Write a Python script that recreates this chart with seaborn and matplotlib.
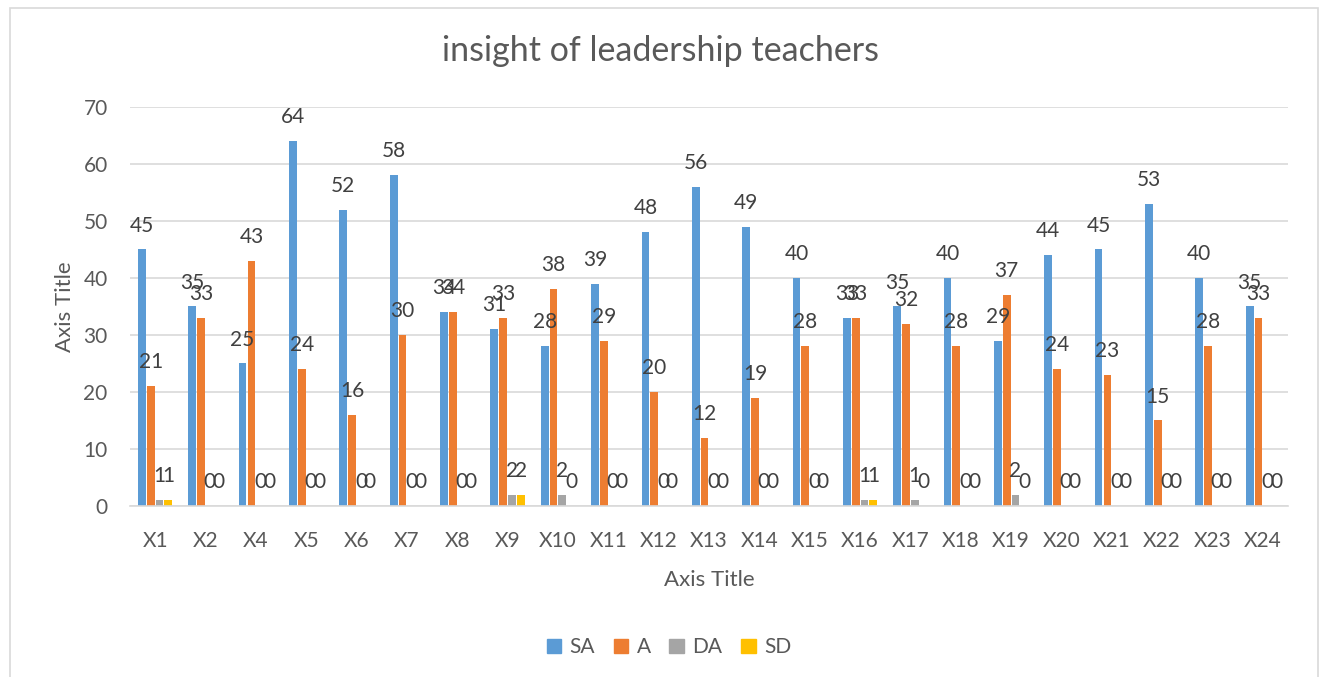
import pandas as pd
import numpy as np
import matplotlib.pyplot as plt
import seaborn as sns
from matplotlib.patches import Rectangle

categories = ['X1', 'X2', 'X4', 'X5', 'X6', 'X7', 'X8', 'X9', 'X10', 'X11', 'X12',
              'X13', 'X14', 'X15', 'X16', 'X17', 'X18', 'X19', 'X20', 'X21', 'X22',
              'X23', 'X24']
sa = [45, 35, 25, 64, 52, 58, 34, 31, 28, 39, 48, 56, 49, 40, 33, 35, 40, 29, 44, 45, 53, 40, 35]
a = [21, 33, 43, 24, 16, 30, 34, 33, 38, 29, 20, 12, 19, 28, 33, 32, 28, 37, 24, 23, 15, 28, 33]
da = [1, 0, 0, 0, 0, 0, 0, 2, 2, 0, 0, 0, 0, 0, 1, 1, 0, 2, 0, 0, 0, 0, 0]
sd = [1, 0, 0, 0, 0, 0, 0, 2, 0, 0, 0, 0, 0, 0, 1, 0, 0, 0, 0, 0, 0, 0, 0]
series = ['SA', 'A', 'DA', 'SD']
colors = ['#5b9bd5', '#ed7d31', '#a5a5a5', '#ffc000']

df = pd.DataFrame({'cat': categories, 'SA': sa, 'A': a, 'DA': da, 'SD': sd})
df = df.melt(id_vars='cat', var_name='series', value_name='value')

sns.set_style('white')
plt.rcParams['font.family'] = ['Lato', 'DejaVu Sans']
txt = '#595959'

fig = plt.figure(figsize=(13.22, 6.77), dpi=100)
ax = fig.add_axes([0.0983, 0.2526, 0.8760, 0.5894])

sns.barplot(data=df, x='cat', y='value', hue='series', hue_order=series,
            palette=colors, order=categories, width=0.7, gap=0.12,
            linewidth=0, saturation=1, ax=ax, legend=True)

# Excel-style data labels, zeros included
for cont in ax.containers:
    ax.bar_label(cont, padding=10, fontsize=15, color='#404040')

ax.set_ylim(0, 70)
ax.set_yticks(range(0, 71, 10))
ax.set_xlim(-0.5, len(categories) - 0.5)
ax.yaxis.grid(True, color='#d9d9d9', linewidth=1.2)
ax.set_axisbelow(True)
for s in ['top', 'right', 'left']:
    ax.spines[s].set_visible(False)
ax.spines['bottom'].set_color('#d9d9d9')
ax.spines['bottom'].set_linewidth(1.2)

ax.tick_params(axis='y', length=0, labelsize=15, labelcolor=txt, pad=16)
ax.tick_params(axis='x', which='major', length=0, labelsize=15, labelcolor=txt, pad=18)
ax.set_xticks(np.arange(-0.5, len(categories)), minor=True)
ax.tick_params(axis='x', which='minor', length=6, color='#d9d9d9', width=1.2)

ax.set_xlabel('Axis Title', fontsize=16, color=txt, labelpad=14)
ax.set_ylabel('Axis Title', fontsize=16, color=txt, labelpad=6)
fig.suptitle('insight of leadership teachers', fontsize=24.5, color=txt, y=0.948)

ax.get_legend().remove()
handles = [Rectangle((0, 0), 1, 1, color=c) for c in colors]
fig.legend(handles, series, loc='center', bbox_to_anchor=(0.506, 0.044), ncol=4,
           frameon=False, fontsize=15, labelcolor=txt, handlelength=0.7,
           handleheight=0.7, handletextpad=0.4, columnspacing=0.9)

fig.patches.append(Rectangle((10 / 1322, -0.01), 1308 / 1322, 1 - 8 / 677 + 0.01,
                             transform=fig.transFigure, fill=False,
                             edgecolor='#d9d9d9', linewidth=1.2))

fig.savefig('out.png', dpi=100)
